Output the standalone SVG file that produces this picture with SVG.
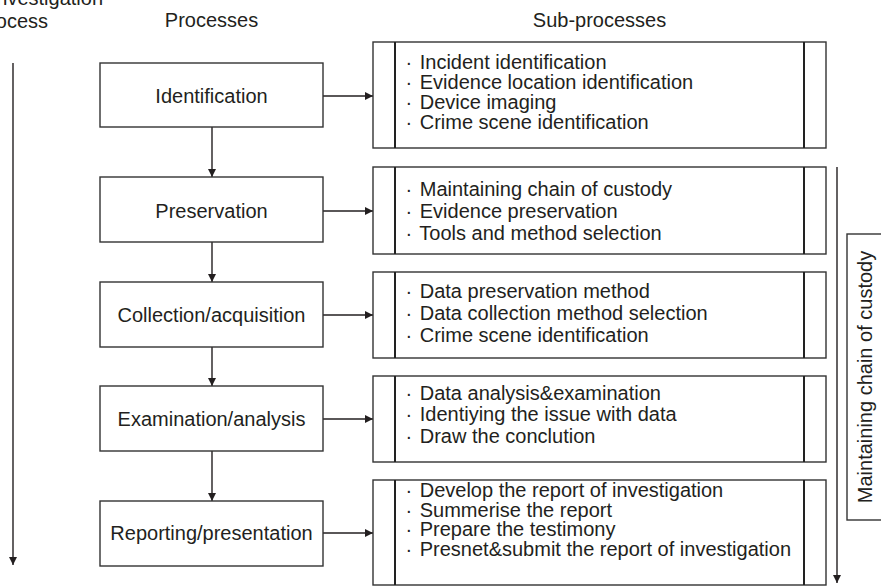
<svg xmlns="http://www.w3.org/2000/svg" width="881" height="587" viewBox="0 0 881 587">
<style>
  text { font-family: "Liberation Sans", Arial, sans-serif; font-size: 20px; fill: #231f20; }
  .c { text-anchor: middle; }
  .box { fill: #fff; stroke: #333; stroke-width: 1.4; }
  .inner { stroke: #222; stroke-width: 2; }
  .line { stroke: #231f20; stroke-width: 1.4; fill: none; }
</style>
<defs>
  <marker id="arr" viewBox="0 0 10 10" refX="10" refY="5" markerWidth="8" markerHeight="8" markerUnits="userSpaceOnUse" orient="auto">
    <path d="M0,0 L10,5 L0,10 Z" fill="#231f20"/>
  </marker>
</defs>
<rect width="881" height="587" fill="#fff"/>

<g id="headings">
  <text x="103" y="5" text-anchor="end">Investigation</text>
  <text class="c" x="13" y="28">process</text>
  <text class="c" x="211.5" y="27">Processes</text>
  <text class="c" x="599.5" y="27">Sub-processes</text>
</g>

<g id="connectors">
  <line class="line" x1="13" y1="63" x2="13" y2="565" marker-end="url(#arr)"/>
  <line class="line" x1="212" y1="127" x2="212" y2="177" marker-end="url(#arr)"/>
  <line class="line" x1="212" y1="242" x2="212" y2="282" marker-end="url(#arr)"/>
  <line class="line" x1="212" y1="347" x2="212" y2="386" marker-end="url(#arr)"/>
  <line class="line" x1="212" y1="451" x2="212" y2="501" marker-end="url(#arr)"/>
  <line class="line" x1="323" y1="96" x2="373" y2="96" marker-end="url(#arr)"/>
  <line class="line" x1="323" y1="211" x2="373" y2="211" marker-end="url(#arr)"/>
  <line class="line" x1="323" y1="315" x2="373" y2="315" marker-end="url(#arr)"/>
  <line class="line" x1="323" y1="419" x2="373" y2="419" marker-end="url(#arr)"/>
  <line class="line" x1="323" y1="533" x2="373" y2="533" marker-end="url(#arr)"/>
  <line class="line" x1="837" y1="167" x2="837" y2="583" marker-end="url(#arr)"/>
</g>

<g id="p1"><rect class="box" x="100" y="63" width="223" height="64"/><text class="c" x="211.5" y="103">Identification</text></g>
<g id="p2"><rect class="box" x="100" y="177" width="223" height="65"/><text class="c" x="211.5" y="218">Preservation</text></g>
<g id="p3"><rect class="box" x="100" y="282" width="223" height="65"/><text class="c" x="211.5" y="322">Collection/acquisition</text></g>
<g id="p4"><rect class="box" x="100" y="386" width="223" height="65"/><text class="c" x="211.5" y="426">Examination/analysis</text></g>
<g id="p5"><rect class="box" x="100" y="501" width="223" height="65"/><text class="c" x="211.5" y="540">Reporting/presentation</text></g>

<g id="s1">
  <rect class="box" x="373" y="42" width="453" height="106"/>
  <line class="inner" x1="395" y1="42" x2="395" y2="148"/><line class="inner" x1="804" y1="42" x2="804" y2="148"/>
  <text x="405.5" y="69">·<tspan dx="2"> Incident identification</tspan></text>
  <text x="405.5" y="89">·<tspan dx="2"> Evidence location identification</tspan></text>
  <text x="405.5" y="109">·<tspan dx="2"> Device imaging</tspan></text>
  <text x="405.5" y="129">·<tspan dx="2"> Crime scene identification</tspan></text>
</g>
<g id="s2">
  <rect class="box" x="373" y="167" width="453" height="87"/>
  <line class="inner" x1="395" y1="167" x2="395" y2="254"/><line class="inner" x1="804" y1="167" x2="804" y2="254"/>
  <text x="405.5" y="196">·<tspan dx="2"> Maintaining chain of custody</tspan></text>
  <text x="405.5" y="218">·<tspan dx="2"> Evidence preservation</tspan></text>
  <text x="405.5" y="240">·<tspan dx="2"> Tools and method selection</tspan></text>
</g>
<g id="s3">
  <rect class="box" x="373" y="272" width="453" height="86"/>
  <line class="inner" x1="395" y1="272" x2="395" y2="358"/><line class="inner" x1="804" y1="272" x2="804" y2="358"/>
  <text x="405.5" y="298">·<tspan dx="2"> Data preservation method</tspan></text>
  <text x="405.5" y="320">·<tspan dx="2"> Data collection method selection</tspan></text>
  <text x="405.5" y="342">·<tspan dx="2"> Crime scene identification</tspan></text>
</g>
<g id="s4">
  <rect class="box" x="373" y="376" width="453" height="86"/>
  <line class="inner" x1="395" y1="376" x2="395" y2="462"/><line class="inner" x1="804" y1="376" x2="804" y2="462"/>
  <text x="405.5" y="400">·<tspan dx="2"> Data analysis&amp;examination</tspan></text>
  <text x="405.5" y="421">·<tspan dx="2"> Identiying the issue with data</tspan></text>
  <text x="405.5" y="443">·<tspan dx="2"> Draw the conclution</tspan></text>
</g>
<g id="s5">
  <rect class="box" x="373" y="480" width="453" height="105"/>
  <line class="inner" x1="395" y1="480" x2="395" y2="585"/><line class="inner" x1="804" y1="480" x2="804" y2="585"/>
  <text x="405.5" y="497">·<tspan dx="2"> Develop the report of investigation</tspan></text>
  <text x="405.5" y="517">·<tspan dx="2"> Summerise the report</tspan></text>
  <text x="405.5" y="536">·<tspan dx="2"> Prepare the testimony</tspan></text>
  <text x="405.5" y="556">·<tspan dx="2"> Presnet&amp;submit the report of investigation</tspan></text>
</g>

<g id="custody">
  <rect class="box" x="847" y="234" width="60" height="286"/>
  <text class="c" transform="translate(872,377) rotate(-90)">Maintaining chain of custody</text>
</g>
</svg>
